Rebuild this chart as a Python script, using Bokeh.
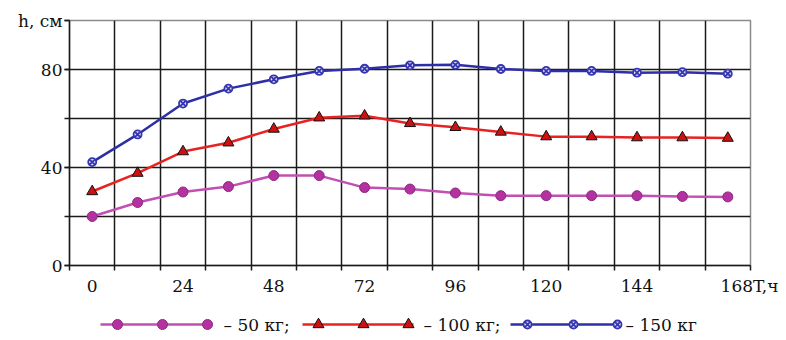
from bokeh.plotting import figure
from bokeh.models import Range1d, FixedTicker, Label
from bokeh.layouts import column
from bokeh.embed import file_html
from bokeh.resources import INLINE

hours = [0, 12, 24, 36, 48, 60, 72, 84, 96, 108, 120, 132, 144, 156, 168]
h_50 = [20, 25.7, 30, 32.2, 36.7, 36.7, 31.8, 31.2, 29.6, 28.5, 28.5, 28.5, 28.5, 28.2, 28]
h_100 = [30.2, 37.7, 46.5, 50.1, 55.7, 60.3, 61.1, 58, 56.4, 54.5, 52.6, 52.6, 52.2, 52.2, 52]
h_150 = [42.2, 53.5, 66.1, 72.2, 76, 79.4, 80.3, 81.7, 81.9, 80.2, 79.4, 79.4, 78.7, 78.9, 78.3]
x_labels = [0, 24, 48, 72, 96, 120, 144, 168]
x_title = "T,ч"
y_labels = [0, 40, 80]
y_grid = [20, 40, 60, 80, 100]
y_title = "h, см"
legend_texts = ["\u2013 50 кг;", "\u2013 100 кг;", "\u2013 150 кг"]

FONT = "DejaVu Serif"
C50, C50E, C50L = "#b3329f", "#8c2a80", "#c24fb3"
C100, C100L = "#d01010", "#e82222"
C150, C150L = "#3535b0", "#2e2ea8"

W, L, R = 778, 69, 28
half = (hours[1] - hours[0]) / 2
x0, x1 = hours[0] - half, hours[-1] + half
p = figure(width=W, height=298, output_backend="svg", toolbar_location=None,
           x_range=Range1d(x0, x1), y_range=Range1d(0, y_grid[-1]),
           min_border_left=L, min_border_right=R, min_border_top=20, min_border_bottom=32)
p.background_fill_color = "white"
p.border_fill_color = "white"
p.outline_line_color = "#8a8a8a"
p.outline_line_width = 1.5

# the last x label sits at the right edge together with the axis title
xt = x_labels[:-1] + [x1]
p.xaxis.ticker = FixedTicker(ticks=xt, minor_ticks=[h - half for h in hours] + [x1])
p.xaxis.major_label_overrides = {x1: f"{x_labels[-1]}{x_title}"}
yt = y_labels + [y_grid[-1]]
p.yaxis.ticker = FixedTicker(ticks=yt, minor_ticks=[0] + y_grid)
p.yaxis.major_label_overrides = {y_grid[-1]: y_title}
p.xgrid.ticker = FixedTicker(ticks=[h + half for h in hours[:-1]])
p.ygrid.ticker = FixedTicker(ticks=y_grid[:-1])
for g in (p.xgrid, p.ygrid):
    g.grid_line_color = "#1a1a1a"
    g.grid_line_width = 1.5
for ax in (p.xaxis, p.yaxis):
    ax.axis_line_color = "#1a1a1a"
    ax.axis_line_width = 1.5
    ax.major_tick_line_color = "#1a1a1a"
    ax.minor_tick_line_color = "#1a1a1a"
    ax.minor_tick_line_width = 1.5
    ax.major_tick_line_width = 1.5
    ax.major_label_text_font = FONT
    ax.major_label_text_font_size = "17px"
    ax.major_label_text_color = "#111111"
p.xaxis.major_tick_out = 0
p.xaxis.major_tick_in = 0
p.xaxis.minor_tick_out = 5
p.xaxis.minor_tick_in = 0
p.xaxis.major_label_standoff = 5
p.yaxis.major_tick_out = 5
p.yaxis.major_tick_in = 0
p.yaxis.minor_tick_out = 5
p.yaxis.minor_tick_in = 0
p.yaxis.major_label_standoff = 2

p.line(hours, h_50, line_color=C50L, line_width=2.5)
p.scatter(hours, h_50, marker="circle", size=10, fill_color=C50, line_color=C50E, line_width=1)
p.line(hours, h_100, line_color=C100L, line_width=2.5)
p.scatter(hours, h_100, marker="triangle", size=11, fill_color=C100, line_color="#111111", line_width=1)
p.line(hours, h_150, line_color=C150L, line_width=2.5)
p.scatter(hours, h_150, marker="circle_x", size=8, fill_color="#dcdcf4", line_color=C150, line_width=1.8)

# legend strip (data coordinates equal page pixels)
LH = 40
lg = figure(width=W, height=LH, output_backend="svg", toolbar_location=None,
            x_range=Range1d(L, W - R), y_range=Range1d(0, LH),
            x_axis_location=None, y_axis_location=None,
            min_border_left=L, min_border_right=R, min_border_top=0, min_border_bottom=0)
lg.outline_line_color = None
lg.xgrid.visible = False
lg.ygrid.visible = False
lg.background_fill_color = "white"
lg.border_fill_color = "white"
ly = 14
items = [
    (100, 212, [117, 162, 207], 223, dict(marker="circle", size=10, fill_color=C50, line_color=C50E, line_width=1), C50L),
    (302, 413, [318, 363, 408], 423, dict(marker="triangle", size=11, fill_color=C100, line_color="#111111", line_width=1), C100L),
    (510, 620, [527, 573, 617], 625, dict(marker="circle_x", size=8, fill_color="#dcdcf4", line_color=C150, line_width=1.8), C150L),
]
for (a, b, mx, tx, mk, lc), txt in zip(items, legend_texts):
    lg.line([a, b], [ly, ly], line_color=lc, line_width=2.5)
    lg.scatter(mx, [ly] * 3, **mk)
    lg.add_layout(Label(x=tx, y=ly, text=txt, text_font=FONT, text_font_size="17px",
                        text_baseline="middle", text_align="left", text_color="#111111"))

layout = column(p, lg, spacing=0)
open("out.html", "w").write(file_html(layout, INLINE))
